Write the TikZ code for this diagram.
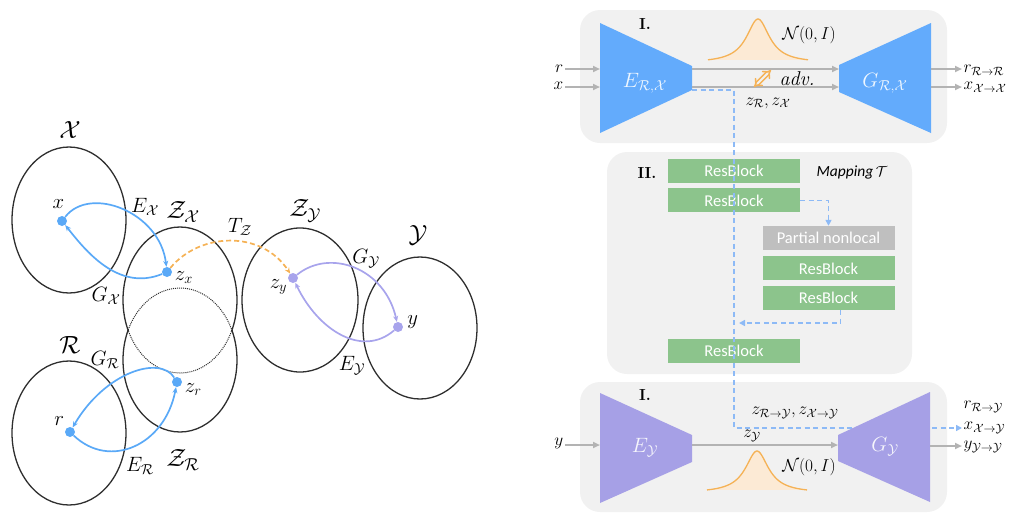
\documentclass[tikz,border=0pt]{standalone}
\usepackage{fontspec}
\usepackage{amsmath}
\usetikzlibrary{arrows.meta, positioning, calc}
\newfontfamily\blockfont{Carlito}
\definecolor{spaceBlue}{HTML}{5AA9F7}
\definecolor{encBlue}{HTML}{63ABFC}
\definecolor{encPurple}{HTML}{A6A0E6}
\definecolor{flowPurple}{HTML}{A8A4EC}
\definecolor{tOrange}{HTML}{F5B256}
\definecolor{tOrangeFill}{HTML}{FCEAD5}
\definecolor{panelGray}{HTML}{F1F1F1}
\definecolor{lineGray}{HTML}{B3B3B3}
\definecolor{resGreen}{HTML}{8CC48C}
\definecolor{nlGray}{HTML}{BFBFBF}
\definecolor{dashBlue}{HTML}{8DBAF6}
\definecolor{ringGray}{HTML}{2E2E2E}

\begin{document}
\begin{tikzpicture}[x=1pt, y=-1pt,
    ring/.style={draw=ringGray, line width=1.3pt},
    dotring/.style={draw=ringGray, line width=1pt, dash pattern=on 1pt off 1pt},
    spacelab/.style={font=\fontsize{24}{26}\selectfont, inner sep=1pt},
    lab/.style={font=\fontsize{20}{22}\selectfont, inner sep=1pt},
    pt/.style={circle, minimum size=10pt, inner sep=0pt},
    blueflow/.style={draw=spaceBlue, line width=1.7pt, -{Stealth[length=6pt, width=5pt]}},
    purpleflow/.style={draw=flowPurple, line width=1.7pt, -{Stealth[length=6pt, width=5pt]}},
    panel/.style={fill=panelGray, rounded corners=20pt},
    iolab/.style={font=\fontsize{18}{20}\selectfont, inner sep=1.5pt},
    numlab/.style={font=\fontsize{16}{18}\selectfont\bfseries},
    grayarrow/.style={draw=lineGray, line width=1.8pt, -{Triangle[length=7pt, width=6pt]}},
    flowdash/.style={draw=dashBlue, line width=1.6pt, dash pattern=on 5pt off 3.5pt},
    resblock/.style={rectangle, fill=resGreen, minimum width=132pt, minimum height=24pt,
                     inner sep=0pt, text=white, font=\blockfont\fontsize{16.5}{18}\selectfont},
  ]
  \useasboundingbox (0,0) rectangle (1013,512);

  % ---- left: latent spaces ----
  \draw[ring] (69,220) ellipse [x radius=57, y radius=73];
  \begin{scope}
    \clip (100,200) rectangle (260,330);
    \draw[ring] (180,300) ellipse [x radius=57, y radius=73];
    \draw[dotring] (180,360) ellipse [x radius=57, y radius=72];
  \end{scope}
  \begin{scope}
    \clip (100,330) rectangle (260,450);
    \draw[dotring] (180,300) ellipse [x radius=57, y radius=73];
    \draw[ring] (180,360) ellipse [x radius=57, y radius=72];
  \end{scope}
  \draw[ring] (69,433) ellipse [x radius=57, y radius=72];
  \draw[ring] (300,300) ellipse [x radius=58, y radius=72];
  \draw[ring] (420,328) ellipse [x radius=57, y radius=71];

  \node[spacelab] (lX) at (70,130) {$\mathcal{X}$};
  \node[spacelab] (lZX) at (183,212) {$\mathcal{Z}_{\mathcal{X}}$};
  \node[spacelab] (lZY) at (305,211) {$\mathcal{Z}_{\mathcal{Y}}$};
  \node[spacelab] (lY) at (418,235) {$\mathcal{Y}$};
  \node[spacelab] (lR) at (70,345) {$\mathcal{R}$};
  \node[spacelab] (lZR) at (183,460) {$\mathcal{Z}_{\mathcal{R}}$};

  \node[pt, fill=spaceBlue] (x) at (62,221) {};
  \node[pt, fill=spaceBlue] (zx) at (167,272) {};
  \node[pt, fill=spaceBlue] (r) at (70,432) {};
  \node[pt, fill=spaceBlue] (zr) at (177,382) {};
  \node[pt, fill=flowPurple] (zy) at (293,278) {};
  \node[pt, fill=flowPurple] (y) at (398,327) {};

  \node[lab, above left=8pt and -7pt of x] {$x$};
  \node[lab, below right=-5pt and 3pt of zx] {$z_x$};
  \node[lab, below left=-3pt and 1pt of zy] {$z_y$};
  \node[lab, right=3pt of y, yshift=5pt] {$y$};
  \node[lab, above left=2pt and 1pt of r] {$r$};
  \node[lab, below right=-3pt and 3pt of zr] {$z_r$};

  \draw[blueflow] (x) .. controls (90,185) and (160,212) .. (zx);
  \draw[blueflow] (zx) .. controls (118,292) and (85,250) .. (x);
  \draw[blueflow] (r) .. controls (110,470) and (165,445) .. (zr);
  \draw[blueflow] (zr) .. controls (160,355) and (105,372) .. (r);
  \draw[purpleflow] (zy) .. controls (330,248) and (385,268) .. (y);
  \draw[purpleflow] (y) .. controls (362,358) and (318,330) .. (zy);
  \draw[draw=tOrange, line width=1.7pt, dash pattern=on 5pt off 3pt,
        -{Stealth[length=6pt, width=5pt]}] (zx) .. controls (200,232) and (262,230) .. (zy);

  \node[lab] at (145,207) {$E_{\mathcal{X}}$};
  \node[lab] at (106,296) {$G_{\mathcal{X}}$};
  \node[lab] at (240,227) {$T_{\mathcal{Z}}$};
  \node[lab] at (366,259) {$G_{\mathcal{Y}}$};
  \node[lab] at (352,366) {$E_{\mathcal{Y}}$};
  \node[lab] at (105,360) {$G_{\mathcal{R}}$};
  \node[lab] at (140,466) {$E_{\mathcal{R}}$};

  % ---- right: panels ----
  \fill[panel] (580,10) rectangle (947,143);
  \fill[panel] (607,152) rectangle (912,374);
  \fill[panel] (580,382) rectangle (947,512);

  \node[numlab] at (645,24) {I.};
  \node[numlab] at (647,173) {II.};
  \node[numlab] at (645,395) {I.};

  % gaussians
  \fill[tOrangeFill] plot[domain=-50:50, samples=80] ({758+\x},{63-44/(1+(\x/14)^2)}) -- cycle;
  \draw[tOrange, line width=1.3pt] plot[domain=-50:50, samples=80] ({758+\x},{63-44/(1+(\x/14)^2)});
  \fill[tOrangeFill] plot[domain=-50:50, samples=80] ({757+\x},{493-42/(1+(\x/14)^2)}) -- cycle;
  \draw[tOrange, line width=1.3pt] plot[domain=-50:50, samples=80] ({757+\x},{493-42/(1+(\x/14)^2)});
  \node[iolab, font=\fontsize{19}{21}\selectfont] at (809,35) {$\mathcal{N}(0,I)$};
  \node[iolab, font=\fontsize{19}{21}\selectfont] at (809,467) {$\mathcal{N}(0,I)$};

  % mapping blocks
  \node[resblock] (rb1) at (734,171) {ResBlock};
  \node[resblock, below=5pt of rb1] (rb2) {ResBlock};
  \node[resblock, fill=nlGray] (pn) at (828.5,238) {Partial nonlocal};
  \node[resblock, below=6pt of pn] (rb3) {ResBlock};
  \node[resblock, below=5pt of rb3] (rb4) {ResBlock};
  \node[resblock] (rb5) at (734,351) {ResBlock};
  \node[font=\fontsize{15.5}{17}\selectfont] at (852,172) {{\blockfont\itshape Mapping}\,$\mathcal{T}$};

  % connection points
  \coordinate (ez) at (692,90);
  \coordinate (merge) at (739,323);
  \coordinate (e1a) at (692,69);
  \coordinate (e1b) at (692,87);
  \coordinate (g1a) at (839,69);
  \coordinate (g1b) at (839,87);
  \coordinate (g1oa) at (931,69);
  \coordinate (g1ob) at (931,87);
  \coordinate (e1ia) at (600,69);
  \coordinate (e1ib) at (600,87);
  \coordinate (e2i) at (600,445);
  \coordinate (e2o) at (692,445);
  \coordinate (g2i) at (838,445);
  \coordinate (g2o) at (930,446);
  \coordinate (advA) at (754,87);
  \coordinate (advB) at (771,70);

  % io labels
  \node[iolab, anchor=east] (rIn) at (565,69) {$r$};
  \node[iolab, anchor=east] (xIn) at (565,86) {$x$};
  \node[iolab, anchor=east] (yIn) at (565,443) {$y$};
  \node[iolab, anchor=west] (rOut) at (962,70) {$r_{\mathcal{R}\to\mathcal{R}}$};
  \node[iolab, anchor=west] (xOut) at (962,87) {$x_{\mathcal{X}\to\mathcal{X}}$};
  \node[iolab, anchor=west] (rOut2) at (962,407) {$r_{\mathcal{R}\to\mathcal{Y}}$};
  \node[iolab, anchor=west] (xOut2) at (962,428) {$x_{\mathcal{X}\to\mathcal{Y}}$};
  \node[iolab, anchor=west] (yOut2) at (962,447) {$y_{\mathcal{Y}\to\mathcal{Y}}$};

  % dashed latent path
  \draw[flowdash, -{Triangle[length=6pt, width=6pt]}] (ez) -| (rb5.center) |- (xOut2.west);
  \draw[flowdash, -{Triangle[length=6pt, width=6pt]}] (rb2.east) -| (pn.north);
  \draw[flowdash, -{Triangle[length=6pt, width=6pt]}] ([xshift=12pt]rb4.south) |- (merge);

  % encoders / decoders
  \fill[encBlue] (600,23) -- (692,66) -- (692,90) -- (600,133) -- cycle;
  \fill[encBlue] (839,65) -- (931,23) -- (931,133) -- (839,92) -- cycle;
  \fill[encPurple] (600,393) -- (692,435) -- (692,462) -- (600,503) -- cycle;
  \fill[encPurple] (838,435) -- (930,392) -- (930,502) -- (838,461) -- cycle;
  \node[iolab, text=white!90!encBlue, font=\fontsize{20}{22}\selectfont] (enc1) at (645,83) {$E_{\mathcal{R},\mathcal{X}}$};
  \node[iolab, text=white!90!encBlue, font=\fontsize{20}{22}\selectfont] (dec1) at (885,83) {$G_{\mathcal{R},\mathcal{X}}$};
  \node[iolab, text=white!90!encPurple, font=\fontsize{20}{22}\selectfont] (enc2) at (645,448) {$E_{\mathcal{Y}}$};
  \node[iolab, text=white!90!encPurple, font=\fontsize{20}{22}\selectfont] (dec2) at (885,447) {$G_{\mathcal{Y}}$};

  % gray flows
  \draw[grayarrow] (rIn.east |- e1ia) -- (e1ia);
  \draw[grayarrow] (xIn.east |- e1ib) -- (e1ib);
  \draw[grayarrow] (e1a) -- (g1a);
  \draw[grayarrow] (e1b) -- (g1b);
  \draw[grayarrow] (g1oa) -- (rOut.west |- g1oa);
  \draw[grayarrow] (g1ob) -- (xOut.west |- g1ob);
  \draw[grayarrow] (yIn.east |- e2i) -- (e2i);
  \draw[grayarrow] (e2o) -- (g2i);
  \draw[grayarrow] (g2o) -- (yOut2.west |- g2o);

  % adversarial
  \draw[draw=tOrange, double=panelGray, double distance=2pt, line width=1.6pt,
        {Implies}-{Implies}] (advA) -- (advB);
  \node[iolab, font=\fontsize{20}{22}\selectfont] at (797,79) {\textit{adv.}};

  \node[iolab] at (768,103) {$z_{\mathcal{R}}, z_{\mathcal{X}}$};
  \node[iolab] at (795,413) {$z_{\mathcal{R}\to\mathcal{Y}}, z_{\mathcal{X}\to\mathcal{Y}}$};
  \node[iolab] at (752,436) {$z_{\mathcal{Y}}$};
\end{tikzpicture}
\end{document}
